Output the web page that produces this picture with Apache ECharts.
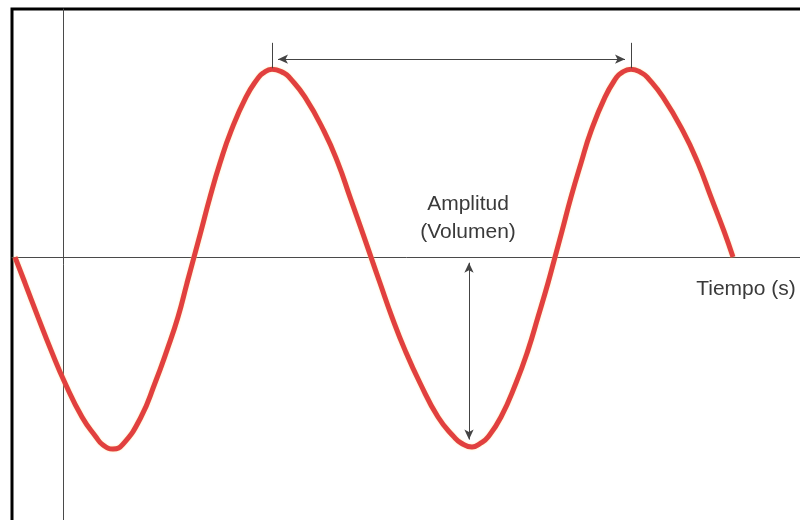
<!DOCTYPE html>
<html>
<head>
<meta charset="utf-8">
<script src="https://cdn.jsdelivr.net/npm/echarts@6.0.0/dist/echarts.min.js"></script>
<style>
  html, body { margin: 0; padding: 0; background: #fff; }
  #main { width: 800px; height: 520px; }
</style>
</head>
<body>
<div id="main"></div>
<script>
// tiempo (0 = eje vertical) y amplitud (%)
const tiempo = [-48, -38, -25, -12, 2, 19, 33, 40, 50,
  60, 78, 92, 104, 115, 124, 131,
  138, 147, 157, 168, 183, 195, 200, 209,
  221, 227, 242, 261, 275, 287, 299, 308,
  317, 329, 342, 357, 375, 391, 398, 409,
  418, 425, 438, 453, 465, 475, 485, 492,
  499, 508, 518, 528, 542, 553, 558, 568,
  579, 585, 600, 620, 635, 648, 661, 670]
const amplitud = [0, -13.8, -31.9, -49.5, -67, -85.1, -95.7, -100, -102.1,
  -99.5, -85.1, -67, -49.5, -31.9, -13.8, 0,
  13.8, 31.9, 50, 67, 85.1, 95.2, 97.9, 100,
  97.9, 95.2, 85.1, 67, 50, 31.9, 13.8, 0,
  -13.8, -31.9, -49.5, -67, -85.1, -95.7, -98.9, -101.1,
  -98.9, -95.7, -85.1, -67, -49.5, -31.9, -13.8, 0,
  13.8, 31.9, 50, 67, 85.1, 95.2, 97.9, 100,
  97.9, 95.2, 85.1, 67, 50, 31.9, 13.8, 0]

const textos = ['Amplitud\n(Volumen)', 'Tiempo (s)']

// picos y valles sacados de los datos
const picos = [], valles = []
amplitud.forEach((a, i) => {
  const prev = i > 0 ? amplitud[i - 1] : null
  const next = i < amplitud.length - 1 ? amplitud[i + 1] : null
  if (prev === null || next === null) return
  if (a > 0 && a >= prev && a >= next) picos.push(i)
  if (a < 0 && a <= prev && a <= next) valles.push(i)
})
const p1 = tiempo[picos[0]], p2 = tiempo[picos[picos.length - 1]]
const pMax = amplitud[picos[0]]
const v = valles[valles.length - 1]

const sinFlecha = { symbol: 'none' }

let myChart = echarts.init(document.getElementById('main'))

let option = {
  animation: false,
  grid: {
    left: 12, top: 9, width: 800, height: 530,
    outerBoundsMode: 'none',
    show: true, borderColor: '#000', borderWidth: 3, backgroundColor: '#fff'
  },
  xAxis: {
    type: 'value', min: -51, max: 749,
    axisLine: { onZero: true, lineStyle: { color: '#4a4a4a', width: 1 } },
    axisTick: { show: false }, axisLabel: { show: false }, splitLine: { show: false }
  },
  yAxis: {
    type: 'value', min: -150, max: 132,
    axisLine: { show: true, onZero: true, lineStyle: { color: '#4a4a4a', width: 1 } },
    axisTick: { show: false }, axisLabel: { show: false }, splitLine: { show: false }
  },
  series: [
    {
      type: 'line',
      data: tiempo.map((t, i) => [t, amplitud[i]]),
      smooth: 0.5,
      showSymbol: false,
      lineStyle: { color: '#e1403f', width: 5, shadowColor: 'rgba(255,215,120,0.7)', shadowBlur: 2 },
      markLine: {
        silent: true,
        symbol: ['arrow', 'arrow'],
        symbolSize: [7, 10],
        label: { show: false },
        lineStyle: { color: '#444', width: 1, type: 'solid' },
        data: [
          // periodo
          [{ coord: [p1 + 6, pMax + 5.3] }, { coord: [p2 - 6, pMax + 5.3] }],
          [{ coord: [p1, pMax + 0.5], ...sinFlecha }, { coord: [p1, pMax + 14], ...sinFlecha }],
          [{ coord: [p2, pMax + 0.5], ...sinFlecha }, { coord: [p2, pMax + 14], ...sinFlecha }],
          // amplitud
          [{ coord: [tiempo[v] - 3, -3] }, { coord: [tiempo[v] - 3, amplitud[v] + 4] }]
        ]
      }
    }
  ],
  graphic: [
    {
      type: 'text',
      style: {
        x: 468, y: 218, text: textos[0], align: 'center', verticalAlign: 'middle',
        font: '21px "Liberation Sans", Arial, sans-serif', fill: '#3a3a3a', lineHeight: 28
      }
    },
    {
      type: 'text',
      style: {
        x: 746, y: 289, text: textos[1], align: 'center', verticalAlign: 'middle',
        font: '21px "Liberation Sans", Arial, sans-serif', fill: '#3a3a3a'
      }
    }
  ]
}
myChart.setOption(option)
</script>
</body>
</html>
